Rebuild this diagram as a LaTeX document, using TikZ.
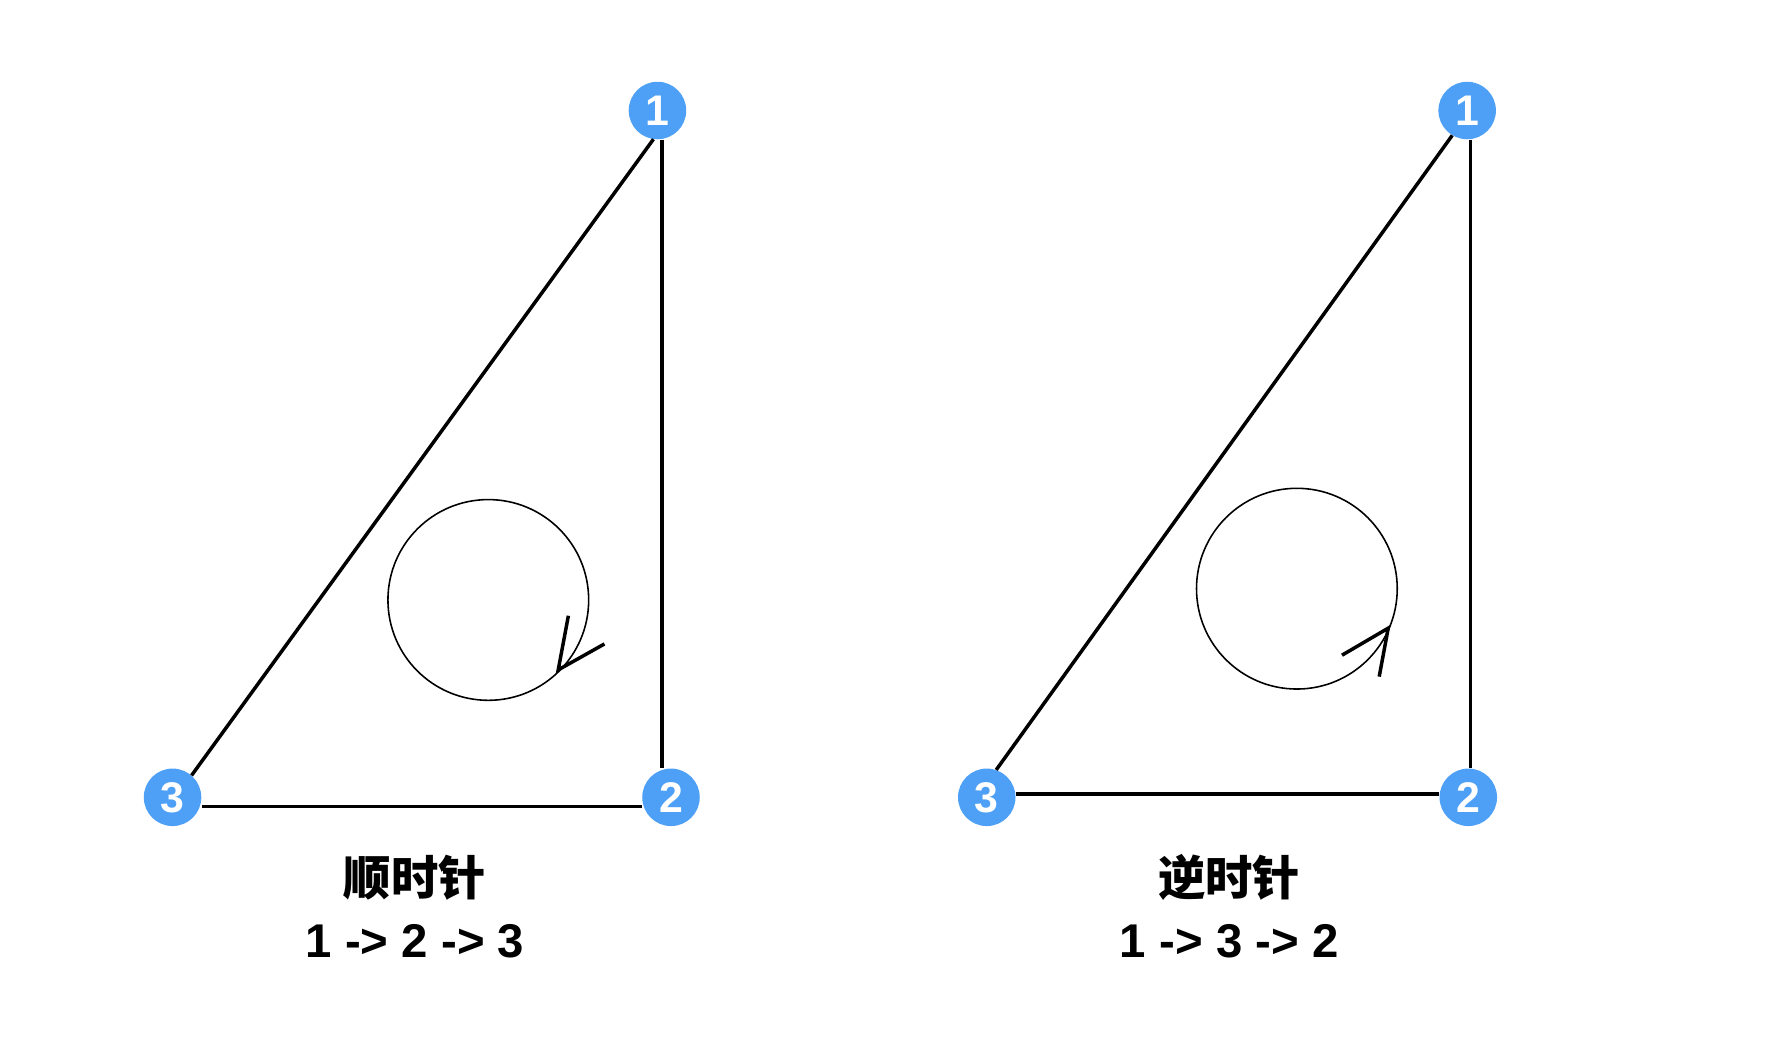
\documentclass[tikz,border=0pt]{standalone}
\usepackage{fontspec}
\setmainfont{Liberation Sans}
\newfontfamily\cjk{Noto Sans CJK SC}
\definecolor{nodeblue}{RGB}{77,160,246}
\begin{document}
\begin{tikzpicture}[x=1pt,y=-1pt,
  vtx/.style={circle, fill=nodeblue, minimum size=51pt, inner sep=0pt, text=white,
    font=\bfseries\fontsize{38}{38}\selectfont},
  sideline/.style={line width=3.1pt},
  ringline/.style={line width=1.4pt},
  headline/.style={line width=3.1pt},
  titletext/.style={font=\cjk\bfseries\fontsize{42}{42}\selectfont},
  seqtext/.style={font=\bfseries\fontsize{42}{42}\selectfont}]
\useasboundingbox (0,0) rectangle (1566,924);
% left triangle
\node[vtx] (a1) at (583,98) {1};
\node[vtx] (a2) at (595,707) {2};
\node[vtx] (a3) at (153,707) {3};
\draw[sideline] ([xshift=4pt]a1.south) -- ([xshift=-8pt]a2.north);
\draw[sideline] (a1.262) -- (a3.49);
\draw[sideline] ([yshift=-8pt]a3.east) -- ([yshift=-8pt]a2.west);
\draw[ringline] (433,532) circle[radius=89];
\coordinate (at) at (495,594);
\coordinate (ap) at (504,546);
\coordinate (aq) at (536,571);
\draw[headline] (ap) -- (at) -- (aq);
\node[titletext] (ac) at (368,778) {顺时针};
\node[seqtext] (as) at (368,835) {1 -> 2 -> 3};
% right triangle
\node[vtx] (b1) at (1301,98) {1};
\node[vtx] (b2) at (1302,707) {2};
\node[vtx] (b3) at (875,707) {3};
\draw[sideline] ([xshift=3pt]b1.south) -- ([xshift=2pt]b2.north);
\draw[sideline] (b1.239) -- (b3.71);
\draw[sideline] ([yshift=3pt]b3.east) -- ([yshift=3pt]b2.west);
\draw[ringline] (1150,522) circle[radius=89];
\coordinate (bt) at (1231,557);
\coordinate (bp) at (1190,581);
\coordinate (bq) at (1223,600);
\draw[headline] (bp) -- (bt) -- (bq);
\node[titletext] (bc) at (1090,778) {逆时针};
\node[seqtext] (bs) at (1090,835) {1 -> 3 -> 2};
\end{tikzpicture}
\end{document}
